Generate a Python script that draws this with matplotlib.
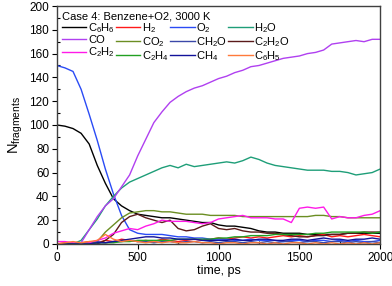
import matplotlib
matplotlib.use("Agg")
import matplotlib.pyplot as plt
import numpy as np

plt.rcParams['font.family'] = ['Liberation Sans', 'DejaVu Sans']
plt.rcParams['mathtext.default'] = 'regular'

time_ps = list(range(0, 2001, 50))

c6h6 = [100, 99, 97, 93, 84, 66, 51, 38, 32, 28, 25, 24, 23, 22, 22, 21, 20, 19, 18, 18, 16,
        15, 15, 14, 13, 11, 10, 10, 9, 9, 9, 8, 8, 8, 8, 8, 9, 9, 9, 9, 9]
h2 = [0, 1, 0, 1, 2, 1, 3, 2, 4, 3, 2, 3, 2, 4, 3, 2, 3, 4, 3, 4, 5,
      4, 5, 6, 5, 6, 5, 6, 7, 6, 7, 6, 7, 8, 6, 7, 6, 7, 8, 7, 6]
o2 = [150, 148, 145, 130, 109, 87, 63, 42, 24, 12, 9, 8, 8, 8, 7, 6, 6, 5, 5, 4, 4,
      4, 3, 3, 4, 3, 3, 3, 2, 3, 3, 2, 3, 3, 2, 3, 2, 3, 2, 2, 3]
h2o = [0, 0, 0, 3, 12, 21, 32, 40, 47, 52, 55, 58, 61, 64, 66, 64, 67, 65, 66, 67, 68,
       69, 68, 70, 73, 71, 68, 66, 65, 64, 63, 62, 62, 62, 61, 61, 60, 58, 59, 60, 63]
co = [0, 0, 0, 1, 12, 23, 32, 38, 48, 58, 74, 88, 102, 111, 119, 124, 128, 131, 133, 136, 139,
      141, 144, 146, 149, 150, 152, 154, 156, 157, 158, 160, 161, 163, 168, 169, 170, 171, 170, 172, 172]
co2 = [0, 0, 0, 0, 0, 2, 10, 16, 22, 26, 27, 28, 28, 27, 27, 26, 25, 25, 25, 24, 24,
       24, 24, 23, 23, 23, 23, 23, 23, 23, 23, 23, 24, 24, 23, 23, 22, 22, 22, 22, 22]
ch2o = [0, 0, 0, 1, 1, 2, 1, 2, 2, 3, 2, 2, 1, 2, 2, 1, 2, 2, 1, 2, 1,
        2, 2, 1, 2, 1, 2, 1, 2, 2, 1, 2, 2, 1, 2, 2, 1, 2, 1, 2, 1]
c2h2o = [0, 0, 0, 0, 0, 0, 3, 8, 18, 23, 25, 22, 20, 18, 20, 13, 11, 12, 15, 17, 13,
         12, 13, 11, 10, 10, 9, 9, 8, 7, 6, 6, 7, 7, 8, 8, 9, 9, 10, 10, 10]
c2h2 = [2, 2, 1, 0, 1, 3, 5, 9, 11, 13, 12, 15, 17, 20, 19, 19, 19, 18, 17, 18, 21,
        22, 23, 24, 22, 22, 22, 21, 21, 18, 30, 31, 30, 31, 21, 23, 22, 22, 24, 25, 28]
c2h4 = [0, 0, 0, 0, 0, 1, 1, 1, 2, 2, 3, 3, 3, 3, 3, 4, 4, 4, 4, 4, 5,
        5, 6, 6, 7, 7, 7, 8, 8, 8, 8, 8, 9, 9, 10, 10, 10, 10, 10, 9, 10]
ch4 = [0, 0, 0, 0, 0, 1, 1, 2, 3, 4, 5, 6, 6, 5, 5, 4, 4, 4, 3, 3, 3,
       3, 4, 3, 3, 4, 4, 3, 3, 4, 4, 3, 4, 5, 4, 4, 3, 4, 4, 5, 4]
c6h5 = [0, 1, 2, 1, 2, 3, 8, 4, 2, 3, 2, 1, 2, 1, 2, 1, 1, 2, 1, 1, 0,
        1, 1, 0, 1, 1, 0, 1, 0, 1, 1, 0, 1, 0, 1, 0, 1, 0, 1, 0, 1]

labels = [r'C$_6$H$_6$', r'H$_2$', r'O$_2$', r'H$_2$O',
          'CO', r'CO$_2$', r'CH$_2$O', r'C$_2$H$_2$O',
          r'C$_2$H$_2$', r'C$_2$H$_4$', r'CH$_4$', r'C$_6$H$_5$']
series = [c6h6, h2, o2, h2o, co, co2, ch2o, c2h2o, c2h2, c2h4, ch4, c6h5]
colors = ['#000000', '#FF1A1A', '#2A4BF5', '#1E9E78',
          '#B040F0', '#6B8E23', '#3B48A8', '#5A1A1A',
          '#FF1AE8', '#22A022', '#12129A', '#FF7A3A']

fig = plt.figure(figsize=(3.92, 2.86), dpi=100)
ax = fig.add_axes([0.145, 0.147, 0.825, 0.832])

handles = []
for y, c, lab in zip(series, colors, labels):
    h, = ax.plot(time_ps, y, color=c, lw=1.0, label=lab)
    handles.append(h)

ax.set_xlim(0, 2000)
ax.set_ylim(0, 200)
ax.set_xticks([0, 500, 1000, 1500, 2000])
ax.set_xticks([250, 750, 1250, 1750], minor=True)
ax.set_yticks(range(0, 201, 20))
ax.set_yticks(range(10, 200, 20), minor=True)
ax.tick_params(which='major', direction='out', length=3.5, width=0.8, labelsize=8.5, pad=2)
ax.tick_params(which='minor', direction='in', length=2.5, width=0.8)
for s in ax.spines.values():
    s.set_color('#404040')
    s.set_linewidth(1.0)

ax.set_xlabel('time, ps', fontsize=9, labelpad=1)
ax.set_ylabel(r'N$_{fragments}$', fontsize=10.5, labelpad=3)

order = [0, 4, 8, 1, 5, 9, 2, 6, 10, 3, 7, 11]
leg = ax.legend([handles[i] for i in order], [labels[i] for i in order],
                ncol=4, loc='upper left', frameon=False, fontsize=8,
                title='Case 4: Benzene+O2, 3000 K', title_fontsize=8,
                handlelength=2.2, handletextpad=0.15, columnspacing=0.1,
                labelspacing=0.02, borderaxespad=0.2, borderpad=0.25)
leg._legend_box.align = 'left'

fig.savefig('out.png', dpi=100)
